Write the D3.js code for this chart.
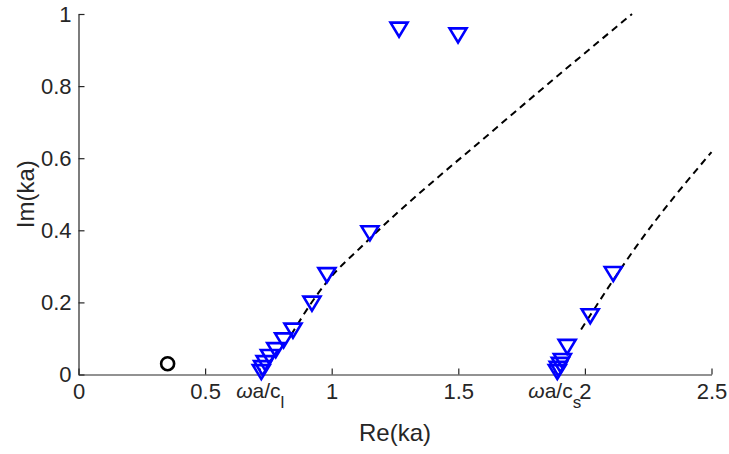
<!DOCTYPE html>
<html>
<head>
<meta charset="utf-8">
<script src="https://cdn.jsdelivr.net/npm/d3@7"></script>
<style>
    body { margin: 0; background: #fff; }
    text { font-family: "Liberation Sans", Arial, Helvetica, sans-serif; fill: #262626; }
</style>
</head>
<body>
<div id="chart"></div>
<script>
// tick values and labels
const xTicks = [0, 0.5, 0.716, 1, 1.5, 1.879, 2, 2.5];
const xTickLabels = ["0", "0.5", "ωa/c_l", "1", "1.5", "ωa/c_s", "2", "2.5"];
const yTicks = [0, 0.2, 0.4, 0.6, 0.8, 1];

// computed modes (triangles)
const modeRe = [1.266, 1.499, 1.151, 0.981, 0.922, 0.847, 0.810, 0.779, 0.754, 0.737, 0.727, 0.722,
                2.112, 2.021, 1.930, 1.911, 1.903, 1.895, 1.891];
const modeIm = [0.958, 0.942, 0.393, 0.277, 0.198, 0.123, 0.096, 0.069, 0.050, 0.033, 0.019, 0.008,
                0.280, 0.163, 0.078, 0.039, 0.028, 0.017, 0.008];

// real root (circle)
const rootRe = [0.352];
const rootIm = [0.030];

// asymptotic curves (dashed)
const asymLRe = [0.840, 0.922, 0.981, 1.124, 1.653, 2.186];
const asymLIm = [0.110, 0.201, 0.257, 0.359, 0.686, 1.0];
const asymSRe = [1.985, 2.206, 2.5];
const asymSIm = [0.125, 0.358, 0.617];

const W = 729, H = 454;
const svg = d3.select("#chart").append("svg")
    .attr("width", W)
    .attr("height", H);

const x = d3.scaleLinear().domain([0, 2.5]).range([78.5, 711.5]);
const y = d3.scaleLinear().domain([0, 1]).range([374.5, 14]);

// axes
const xAxis = svg.append("g")
    .attr("transform", `translate(0,${y(0)})`)
    .call(d3.axisBottom(x)
        .tickValues(xTicks)
        .tickFormat((d, i) => xTickLabels[i])
        .tickSizeInner(-6)
        .tickSizeOuter(0)
        .tickPadding(9));

const yAxis = svg.append("g")
    .attr("transform", `translate(${x(0)},0)`)
    .call(d3.axisLeft(y)
        .tickValues(yTicks)
        .tickFormat(d3.format("~g"))
        .tickSizeInner(-6)
        .tickSizeOuter(0)
        .tickPadding(7));

[xAxis, yAxis].forEach(g => {
    g.select(".domain").attr("stroke", "#262626").attr("stroke-width", 1.2);
    g.selectAll(".tick line").attr("stroke", "#262626").attr("stroke-width", 1.2);
    g.selectAll("text").style("font-size", "22px").attr("font-family", null).style("fill", "#262626");
});

// labels with omega and subscript
xAxis.selectAll(".tick text").each(function(d, i) {
    const lab = xTickLabels[i];
    if (lab.indexOf("_") < 0) return;
    const parts = lab.split("_");
    const t = d3.select(this).text(null).style("font-size", "21px");
    t.append("tspan").style("font-style", "italic").text(parts[0].charAt(0));
    t.append("tspan").text(parts[0].slice(1));
    t.append("tspan").attr("dy", 10).style("font-size", "17px").text(parts[1]);
});

// dashed asymptotes
const curve = d3.line()
    .x(d => x(d[0]))
    .y(d => y(d[1]))
    .curve(d3.curveMonotoneX);

svg.append("path")
    .datum(asymLRe.map((r, i) => [r, asymLIm[i]]))
    .attr("fill", "none")
    .attr("stroke", "#000")
    .attr("stroke-width", 2)
    .attr("stroke-dasharray", "7,5")
    .attr("d", curve);

svg.append("path")
    .datum(asymSRe.map((r, i) => [r, asymSIm[i]]))
    .attr("fill", "none")
    .attr("stroke", "#000")
    .attr("stroke-width", 2)
    .attr("stroke-dasharray", "7,5")
    .attr("d", curve);

// triangles (pointing down)
const tri = "M-8.5,-6.5L8.5,-6.5L0,7.5Z";
svg.selectAll(".mode")
    .data(modeRe.map((r, i) => [r, modeIm[i]]))
    .enter()
    .append("path")
    .attr("class", "mode")
    .attr("d", tri)
    .attr("transform", d => `translate(${x(d[0])},${y(d[1])})`)
    .attr("fill", "none")
    .attr("stroke", "#0000ff")
    .attr("stroke-width", 2.6);

// circle
svg.selectAll(".root")
    .data(rootRe.map((r, i) => [r, rootIm[i]]))
    .enter()
    .append("circle")
    .attr("class", "root")
    .attr("cx", d => x(d[0]))
    .attr("cy", d => y(d[1]))
    .attr("r", 6.5)
    .attr("fill", "none")
    .attr("stroke", "#000")
    .attr("stroke-width", 2.6);

// axis titles
svg.append("text")
    .attr("x", (x(0) + x(2.5)) / 2)
    .attr("y", 441)
    .attr("text-anchor", "middle")
    .style("font-size", "24px")
    .text("Re(ka)");

svg.append("text")
    .attr("transform", "rotate(-90)")
    .attr("x", -y(0.5))
    .attr("y", 34)
    .attr("text-anchor", "middle")
    .style("font-size", "24px")
    .text("Im(ka)");
</script>
</body>
</html>
